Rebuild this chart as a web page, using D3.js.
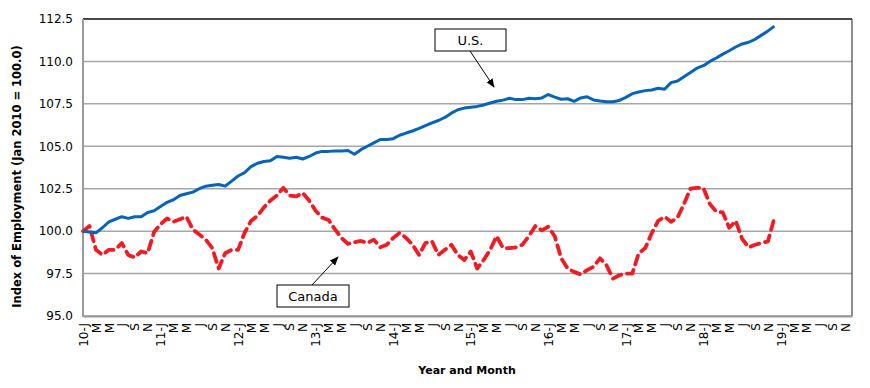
<!DOCTYPE html>
<html>
<head>
<meta charset="utf-8">
<script src="https://cdn.jsdelivr.net/npm/d3@7"></script>
<style>
  body { margin: 0; background: #fff; }
  text { font-family: "DejaVu Sans", sans-serif; }
</style>
</head>
<body>
<svg id="chart" width="870" height="388"></svg>
<script>
// months are counted from Jan 2010 (index 0)
var years = ["10", "11", "12", "13", "14", "15", "16", "17", "18", "19"];
var monthLetters = ["J", "M", "M", "J", "S", "N"];
var yTicks = [95.0, 97.5, 100.0, 102.5, 105.0, 107.5, 110.0, 112.5];

var usValues = [
  100.0, 99.95, 99.9, 100.2, 100.55, 100.7, 100.85, 100.75, 100.85, 100.85, 101.1, 101.2,
  101.45, 101.7, 101.85, 102.1, 102.2, 102.3, 102.5, 102.65, 102.7, 102.75, 102.65, 102.95,
  103.25, 103.45, 103.8, 104.0, 104.1, 104.15, 104.4, 104.35, 104.3, 104.35, 104.25, 104.4,
  104.6, 104.7, 104.7, 104.72, 104.72, 104.75, 104.53, 104.8, 105.0, 105.2, 105.4, 105.4,
  105.45, 105.65, 105.78, 105.9, 106.05, 106.22, 106.38, 106.52, 106.7, 106.95, 107.15, 107.25,
  107.3, 107.35, 107.43, 107.55, 107.65, 107.72, 107.83, 107.75, 107.75, 107.83, 107.8, 107.85,
  108.05, 107.9, 107.77, 107.8, 107.65, 107.85, 107.92, 107.73, 107.67, 107.63, 107.63, 107.7,
  107.88, 108.1, 108.2, 108.28, 108.32, 108.42, 108.36, 108.75, 108.85, 109.1, 109.35, 109.6,
  109.75, 110.0, 110.2, 110.43, 110.63, 110.85, 111.03, 111.13, 111.3, 111.55, 111.8, 112.08
];

var canadaValues = [
  100.0, 100.3, 98.9, 98.6, 98.9, 98.9, 99.3, 98.6, 98.45, 98.8, 98.7, 99.95,
  100.4, 100.75, 100.55, 100.7, 100.85, 100.1, 99.8, 99.5, 99.0, 97.8, 98.7, 98.9,
  98.9, 99.9, 100.6, 100.9, 101.4, 101.8, 102.1, 102.55, 102.1, 102.05, 102.25, 101.8,
  101.2, 100.8, 100.66, 100.1, 99.6, 99.25, 99.35, 99.42, 99.3, 99.5, 99.05, 99.2,
  99.6, 99.9, 99.6, 99.2, 98.6, 99.3, 99.4, 98.6, 98.9, 99.2, 98.6, 98.3,
  98.8, 97.8, 98.3, 98.9, 99.7, 99.0, 99.0, 99.05, 99.2, 99.7, 100.3, 100.05,
  100.26, 99.7, 98.4, 97.8, 97.6, 97.45, 97.7, 97.9, 98.4, 98.0, 97.2, 97.4,
  97.5, 97.5, 98.7, 99.0, 99.87, 100.6, 100.85, 100.55, 100.8, 101.6, 102.5, 102.55,
  102.55, 101.6, 101.15, 101.1, 100.2, 100.6, 99.55, 99.05, 99.2, 99.3, 99.4, 100.8
];

var svg = d3.select("#chart");
var plotLeft = 83, plotRight = 852, plotTop = 19, plotBottom = 316;

var x = d3.scaleLinear().domain([0, years.length * 12 - 1]).range([plotLeft, plotRight]);
var y = d3.scaleLinear().domain([95, 112.5]).range([plotBottom, plotTop]);

// gridlines
svg.append("g")
  .selectAll("line")
  .data(yTicks)
  .enter()
  .append("line")
  .attr("x1", plotLeft).attr("x2", plotRight)
  .attr("y1", function (d) { return y(d); })
  .attr("y2", function (d) { return y(d); })
  .attr("stroke", "#a6a6a6")
  .attr("stroke-width", 1.5);

// frame: dark top and right, gray left/bottom axes
svg.append("line").attr("x1", plotLeft).attr("x2", plotRight).attr("y1", plotTop).attr("y2", plotTop)
  .attr("stroke", "#222").attr("stroke-width", 1.5);
svg.append("line").attr("x1", plotRight).attr("x2", plotRight).attr("y1", plotTop).attr("y2", plotBottom)
  .attr("stroke", "#444").attr("stroke-width", 1.2);
svg.append("line").attr("x1", plotLeft).attr("x2", plotLeft).attr("y1", plotTop).attr("y2", plotBottom + 1)
  .attr("stroke", "#9a9a9a").attr("stroke-width", 2);

// y axis labels
var yAxis = d3.axisLeft(y).tickValues(yTicks).tickFormat(d3.format(".1f")).tickSize(0).tickPadding(10);
var gy = svg.append("g").attr("transform", "translate(" + plotLeft + ",0)").call(yAxis);
gy.select(".domain").remove();
gy.selectAll("text").attr("font-size", 12).attr("fill", "#000").style("font-family", "DejaVu Sans, sans-serif");

// x axis labels, every other month
var tickIdx = d3.range(0, years.length * 12, 2);
var xAxis = d3.axisBottom(x).tickValues(tickIdx).tickSize(0).tickFormat(function (m) {
  var yr = years[Math.floor(m / 12)];
  var k = (m % 12) / 2;
  return k === 0 ? yr + "-J" : monthLetters[k];
});
var gx = svg.append("g").attr("transform", "translate(0," + plotBottom + ")").call(xAxis);
gx.select(".domain").attr("stroke", "#9a9a9a").attr("stroke-width", 2);
gx.selectAll("text")
  .attr("font-size", 12)
  .attr("fill", "#000")
  .style("font-family", "DejaVu Sans, sans-serif")
  .attr("text-anchor", "end")
  .attr("transform", "rotate(-90)")
  .attr("x", -7)
  .attr("y", 0)
  .attr("dy", "0.35em");

// axis titles
svg.append("text")
  .attr("transform", "translate(21," + ((plotTop + plotBottom) / 2 + 9) + ") rotate(-90)")
  .attr("text-anchor", "middle")
  .attr("font-size", 11.5)
  .attr("font-weight", "bold")
  .text("Index of Employment (Jan 2010 = 100.0)");

svg.append("text")
  .attr("x", 467).attr("y", 374)
  .attr("text-anchor", "middle")
  .attr("font-size", 11)
  .attr("font-weight", "bold")
  .text("Year and Month");

// series
var line = d3.line()
  .x(function (d, i) { return x(i); })
  .y(function (d) { return y(d); });

svg.append("path")
  .datum(canadaValues)
  .attr("d", line)
  .attr("fill", "none")
  .attr("stroke", "#ee1c25")
  .attr("stroke-width", 3.8)
  .attr("stroke-dasharray", "9,6")
  .attr("stroke-linecap", "round")
  .attr("stroke-linejoin", "round");

svg.append("path")
  .datum(usValues)
  .attr("d", line)
  .attr("fill", "none")
  .attr("stroke", "#0563b8")
  .attr("stroke-width", 3)
  .attr("stroke-linejoin", "round");

// callouts
var defs = svg.append("defs");
defs.append("marker")
  .attr("id", "arrow")
  .attr("viewBox", "0 0 10 10")
  .attr("refX", 9).attr("refY", 5)
  .attr("markerWidth", 9).attr("markerHeight", 9)
  .attr("orient", "auto")
  .append("path").attr("d", "M0,1 L10,5 L0,9 Z").attr("fill", "#000");

function callout(label, bx, by, bw, bh, x1, y1, x2, y2) {
  svg.append("line")
    .attr("x1", x1).attr("y1", y1).attr("x2", x2).attr("y2", y2)
    .attr("stroke", "#000").attr("stroke-width", 1)
    .attr("marker-end", "url(#arrow)");
  svg.append("rect")
    .attr("x", bx).attr("y", by).attr("width", bw).attr("height", bh)
    .attr("fill", "#fff").attr("stroke", "#000").attr("stroke-width", 1);
  svg.append("text")
    .attr("x", bx + bw / 2).attr("y", by + bh / 2)
    .attr("dy", "0.36em")
    .attr("text-anchor", "middle")
    .attr("font-size", 13)
    .text(label);
}

callout("U.S.", 435, 29, 71, 22, 470, 51, 494, 87);
callout("Canada", 277, 285, 72, 22, 312, 285, 338, 257);
</script>
</body>
</html>
